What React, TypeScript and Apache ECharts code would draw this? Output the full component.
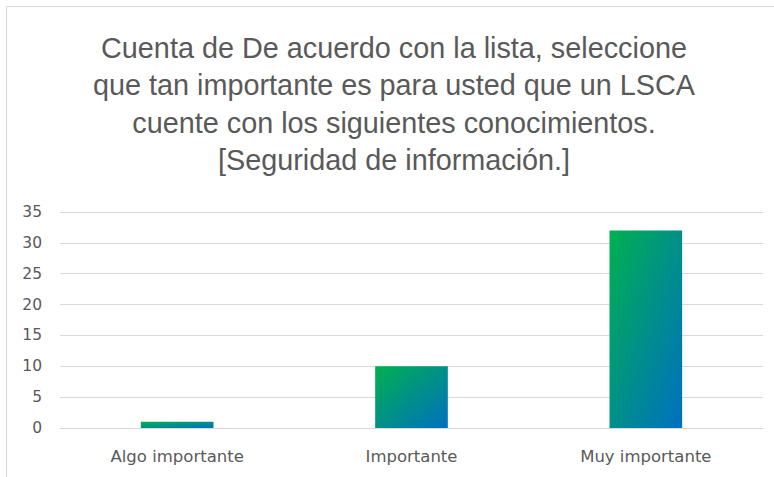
import React, { useEffect, useRef } from "react";
import * as echarts from "echarts";

const categories = ["Algo importante", "Importante", "Muy importante"];
const values = [1, 10, 32];
const yTicks = { min: 0, max: 35, interval: 5 };
const titleLines = [
  "Cuenta de De acuerdo con la lista, seleccione",
  "que tan importante es para usted que un LSCA",
  "cuente con los siguientes conocimientos.",
  "[Seguridad de información.]",
];

export default function App() {
  const ref = useRef<HTMLDivElement>(null);
  useEffect(() => {
    if (!ref.current) return;
    const chart = echarts.init(ref.current, null, { renderer: "svg" });
    const gradient = new echarts.graphic.LinearGradient(0, 0, 1, 1, [
      { offset: 0, color: "#00B050" },
      { offset: 1, color: "#0070C0" },
    ]);
    chart.setOption({
      animation: false,
      backgroundColor: "#ffffff",
      graphic: [
        {
          type: "rect",
          shape: { x: 6.5, y: 6.5, width: 800, height: 500 },
          style: { fill: "none", stroke: "#d9d9d9", lineWidth: 1 },
          z: 0,
        },
        {
          type: "text",
          x: 394,
          y: 29,
          style: {
            text: titleLines.join("\n"),
            textAlign: "center",
            textVerticalAlign: "top",
            fill: "#595959",
            font: '28.8px "Liberation Sans", Arial, sans-serif',
            lineHeight: 37.5,
          },
        },
      ],
      grid: { left: 60, right: 11, top: 212, bottom: 49, containLabel: false },
      xAxis: {
        type: "category",
        data: categories,
        axisLine: { lineStyle: { color: "#d9d9d9", width: 1 } },
        axisTick: { show: false },
        axisLabel: {
          color: "#595959",
          fontFamily: "DejaVu Sans",
          fontSize: 16.5,
          margin: 20,
        },
      },
      yAxis: {
        type: "value",
        min: yTicks.min,
        max: yTicks.max,
        interval: yTicks.interval,
        axisLine: { show: false },
        axisTick: { show: false },
        splitLine: { lineStyle: { color: "#d9d9d9", width: 1 } },
        axisLabel: {
          color: "#595959",
          fontFamily: "DejaVu Sans",
          fontSize: 15.5,
          margin: 18,
        },
      },
      series: [
        {
          type: "bar",
          data: values,
          barWidth: "31%",
          itemStyle: { color: gradient },
        },
      ],
    });
    return () => chart.dispose();
  }, []);
  return (
    <div
      ref={ref}
      style={{ position: "fixed", left: 0, top: 0, width: 774, height: 477 }}
    />
  );
}
